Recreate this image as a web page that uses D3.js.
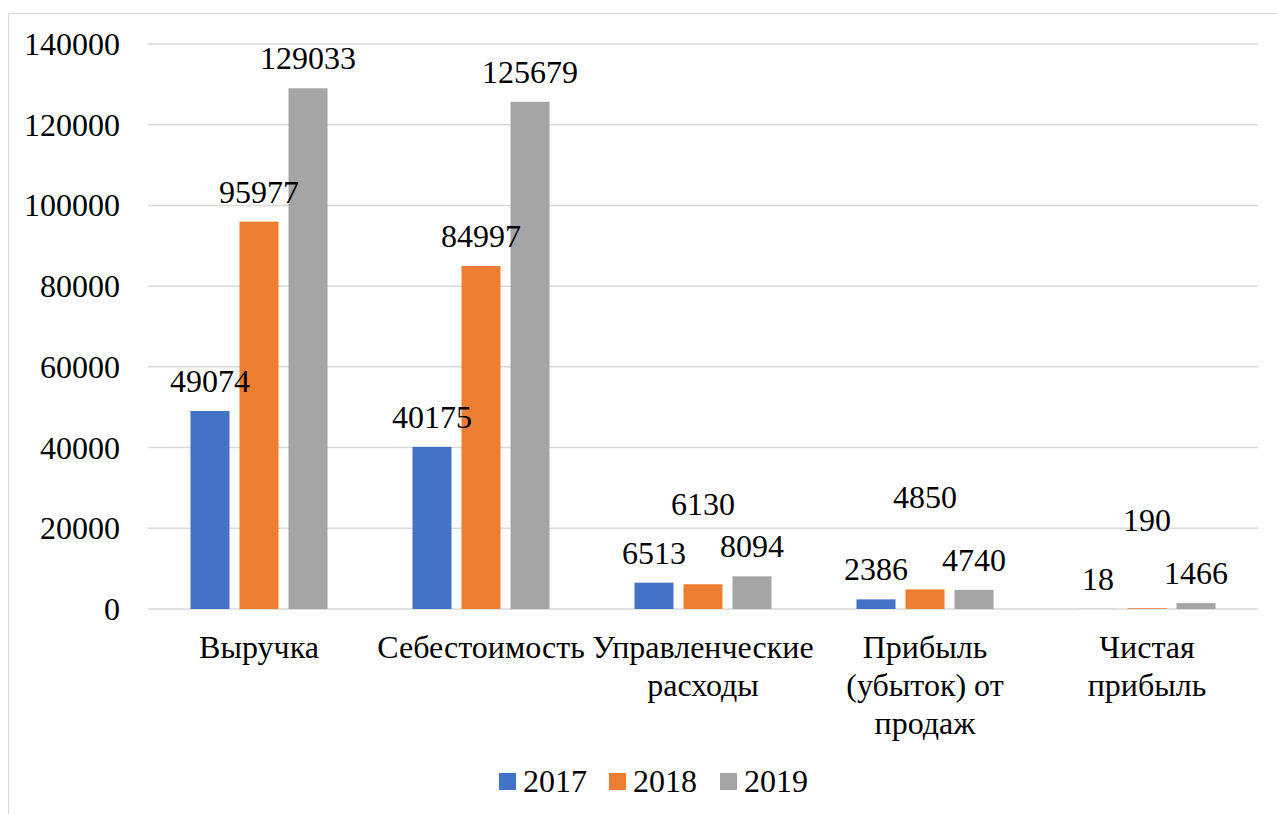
<!DOCTYPE html>
<html>
<head>
<meta charset="utf-8">
<script src="https://d3js.org/d3.v7.min.js"></script>
<style>
  body { margin: 0; background: #fff; }
</style>
</head>
<body>
<script>
// chart data
var categories = [
  ["Выручка"],
  ["Себестоимость"],
  ["Управленческие", "расходы"],
  ["Прибыль", "(убыток) от", "продаж"],
  ["Чистая", "прибыль"]
];
var years = ["2017", "2018", "2019"];
var values2017 = [49074, 40175, 6513, 2386, 18];
var values2018 = [95977, 84997, 6130, 4850, 190];
var values2019 = [129033, 125679, 8094, 4740, 1466];
var yTicks = [0, 20000, 40000, 60000, 80000, 100000, 120000, 140000];

var series = [values2017, values2018, values2019];
var colors = ["#4472C4", "#ED7D31", "#A5A5A5"];
var font = "'Liberation Serif'";
var fs = "32px";

// labels that Excel pushed up to avoid overlapping (2018 series only)
var labelLift = [[0, 0, 0, 0, 0], [0, 0, 50, 62, 58], [0, 0, 0, 0, 0]];

var W = 1277, H = 814;
var svg = d3.select("body").append("svg").attr("width", W).attr("height", H);

// outer chart border
svg.append("rect")
  .attr("x", 8.5).attr("y", 13.5).attr("width", W).attr("height", H)
  .attr("fill", "none").attr("stroke", "#d9d9d9").attr("stroke-width", 1);

var x0 = d3.scaleBand().domain(d3.range(categories.length)).range([148, 1258]).padding(0);
var x1 = d3.scaleBand().domain(d3.range(years.length)).range([0, x0.bandwidth()])
  .paddingInner(0.204).paddingOuter(0.867);
var y = d3.scaleLinear().domain([0, 140000]).range([609, 44]);

// gridlines
svg.append("g").selectAll("line").data(yTicks).join("line")
  .attr("x1", 148).attr("x2", 1258)
  .attr("y1", function (d) { return y(d); }).attr("y2", function (d) { return y(d); })
  .attr("stroke", "#d9d9d9").attr("stroke-width", 1.5);

// y axis labels
svg.append("g").selectAll("text").data(yTicks).join("text")
  .attr("x", 120).attr("y", function (d) { return y(d) + 11; })
  .attr("text-anchor", "end")
  .style("font-family", font).style("font-size", fs)
  .text(function (d) { return d; });

// bars
var groups = svg.append("g").selectAll("g").data(categories).join("g")
  .attr("transform", function (d, i) { return "translate(" + x0(i) + ",0)"; });

groups.selectAll("rect").data(function (d, i) {
    return series.map(function (s, k) { return { k: k, v: s[i] }; });
  }).join("rect")
  .attr("x", function (d) { return x1(d.k); })
  .attr("width", x1.bandwidth())
  .attr("y", function (d) { return y(d.v); })
  .attr("height", function (d) { return y(0) - y(d.v); })
  .attr("fill", function (d) { return colors[d.k]; });

// value labels
groups.selectAll("text.val").data(function (d, i) {
    return series.map(function (s, k) { return { k: k, v: s[i], i: i }; });
  }).join("text")
  .attr("class", "val")
  .attr("x", function (d) { return x1(d.k) + x1.bandwidth() / 2; })
  .attr("y", function (d) { return y(d.v) - 19 - labelLift[d.k][d.i]; })
  .attr("text-anchor", "middle")
  .style("font-family", font).style("font-size", fs)
  .text(function (d) { return d.v; });

// category labels, one text per line
groups.each(function (lines) {
  d3.select(this).selectAll("text.cat").data(lines).join("text")
    .attr("class", "cat")
    .attr("x", x0.bandwidth() / 2)
    .attr("y", function (d, j) { return 658 + j * 38; })
    .attr("text-anchor", "middle")
    .style("font-family", font).style("font-size", fs)
    .text(function (d) { return d; });
});

// legend
var legendX = [499, 609, 720];
var legend = svg.append("g").selectAll("g").data(years).join("g")
  .attr("transform", function (d, i) { return "translate(" + legendX[i] + ",773)"; });
legend.append("rect").attr("width", 17).attr("height", 17)
  .attr("fill", function (d, i) { return colors[i]; });
legend.append("text").attr("x", 24).attr("y", 19)
  .style("font-family", font).style("font-size", fs)
  .text(function (d) { return d; });
</script>
</body>
</html>
